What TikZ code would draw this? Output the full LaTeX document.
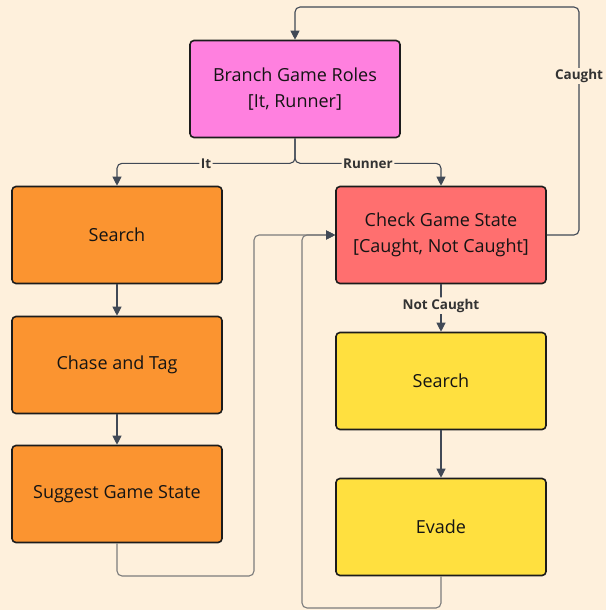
\documentclass[tikz,border=0pt]{standalone}
\usepackage{fontspec}
\setmainfont{Open Sans}
\usetikzlibrary{arrows.meta}
\definecolor{bg}{HTML}{FEF0DC}
\definecolor{pinkc}{HTML}{FF80DF}
\definecolor{orangec}{HTML}{FB9430}
\definecolor{redc}{HTML}{FF6F6F}
\definecolor{yellowc}{HTML}{FFE03F}
\definecolor{edgec}{HTML}{414956}
\definecolor{loopc}{HTML}{7C7C7C}
\definecolor{borderc}{HTML}{1C1C1C}
\tikzset{
  box/.style={draw=borderc, line width=1.6pt, rounded corners=4pt, minimum width=210pt, minimum height=97pt, align=center, font=\fontsize{18}{26}\selectfont, text=black!92},
  edge/.style={draw=edgec, line width=1.1pt, rounded corners=5pt, -{Triangle[length=9pt,width=9pt]}},
  loopedge/.style={draw=loopc, line width=1.1pt, rounded corners=5pt, -{Triangle[length=9pt,width=9pt,color=edgec]}},
  lbl/.style={fill=bg, inner sep=1.5pt, font=\bfseries\fontsize{13.5}{15}\selectfont, text=black!80}
}
\begin{document}
\begin{tikzpicture}[x=1pt,y=-1pt]
\fill[bg] (0,0) rectangle (606,610);
\useasboundingbox (0,0) rectangle (606,610);
\node[box, fill=pinkc] (br) at (295,89) {Branch Game Roles\\{[}It, Runner{]}};
\node[box, fill=orangec] (s1) at (117,235) {Search};
\node[box, fill=orangec] (ct) at (117,365) {Chase and Tag};
\node[box, fill=orangec] (sg) at (117,494) {Suggest Game State};
\node[box, fill=redc] (ck) at (441,235) {Check Game State\\{[}Caught, Not Caught{]}};
\node[box, fill=yellowc] (s2) at (441,381) {Search};
\node[box, fill=yellowc] (ev) at (441,527) {Evade};
\coordinate (cTop) at (579,7);
\coordinate (eB) at (302,608);
\coordinate (sB) at (254,576);
\draw[edge] (br.south) -- ++(0,25) -| (s1.north) node[lbl, pos=0.25] (lit) {It};
\draw[edge] (br.south) -- ++(0,25) -| (ck.north) node[lbl, pos=0.25] (lrun) {Runner};
\draw[edge] (ck.east) -| (cTop) -| (br.north);
\node[lbl] (lcaught) at (579,76) {Caught};
\draw[edge] (ck.south) -- (s2.north) node[lbl, pos=0.45] (lnc) {Not Caught};
\draw[edge] (s1.south) -- (ct.north);
\draw[edge] (ct.south) -- (sg.north);
\draw[edge] (s2.south) -- (ev.north);
\draw[loopedge] (ev.south) |- (eB) |- (ck.west);
\draw[loopedge] (sg.south) |- (sB) |- (ck.west);
\end{tikzpicture}
\end{document}
